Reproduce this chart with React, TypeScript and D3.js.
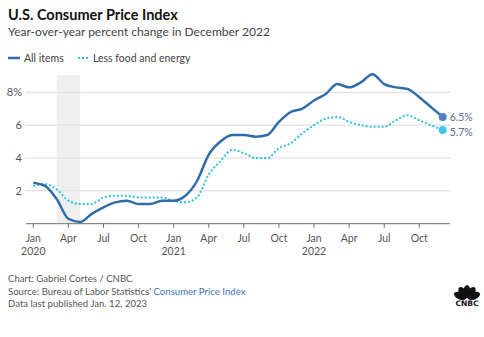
import React from "react";
import * as d3 from "d3";

const months = d3.range(36); // Jan 2020 .. Dec 2022
const allItems = [
  2.5, 2.3, 1.5, 0.3, 0.1, 0.6, 1.0, 1.3, 1.4, 1.2, 1.2, 1.4,
  1.4, 1.7, 2.6, 4.2, 5.0, 5.4, 5.4, 5.3, 5.4, 6.2, 6.8, 7.0,
  7.5, 7.9, 8.5, 8.3, 8.6, 9.1, 8.5, 8.3, 8.2, 7.7, 7.1, 6.5,
];
const coreItems = [
  2.3, 2.4, 2.1, 1.4, 1.2, 1.2, 1.6, 1.7, 1.7, 1.6, 1.6, 1.6,
  1.4, 1.3, 1.6, 3.0, 3.8, 4.5, 4.3, 4.0, 4.0, 4.6, 4.9, 5.5,
  6.0, 6.4, 6.5, 6.2, 6.0, 5.9, 5.9, 6.3, 6.6, 6.3, 6.0, 5.7,
];
const xTickMonths = [0, 3, 6, 9, 12, 15, 18, 21, 24, 27, 30, 33];
const xTickLabels = ["Jan", "Apr", "Jul", "Oct", "Jan", "Apr", "Jul", "Oct", "Jan", "Apr", "Jul", "Oct"];
const yearLabels = [{ m: 0, t: "2020" }, { m: 12, t: "2021" }, { m: 24, t: "2022" }];
const yTicks = [2, 4, 6, 8];
const recession = [2, 4];

const W = 484;
const H = 337;
const FONT = "Lato, 'Open Sans', sans-serif";
const DARK = "#2f6da8";
const CYAN = "#33bfe0";

export default function App() {
  const x = d3.scaleLinear().domain([0, 35]).range([33.3, 442.7]);
  const y = d3.scaleLinear().domain([0, 8]).range([223.7, 92.3]);
  const line = d3
    .line<number>()
    .x((_, i) => x(months[i]))
    .y((d) => y(d))
    .curve(d3.curveMonotoneX);
  const last = months.length - 1;

  return (
    <svg
      width={W}
      height={H}
      style={{ position: "absolute", left: 0, top: 0, background: "#fff" }}
      fontFamily={FONT}
    >
      <text x={8} y={20} fontSize={14.5} fontWeight={700} fill="#111">
        U.S. Consumer Price Index
      </text>
      <text x={8} y={36} fontSize={12} fill="#444">
        Year-over-year percent change in December 2022
      </text>

      {/* legend */}
      <line x1={8} x2={20} y1={58} y2={58} stroke={DARK} strokeWidth={2.5} />
      <text x={24} y={61.5} fontSize={10.5} fill="#444">All items</text>
      <line x1={78} x2={88} y1={58} y2={58} stroke={CYAN} strokeWidth={2} strokeDasharray="2,2" />
      <text x={93} y={61.5} fontSize={10.5} fill="#444">Less food and energy</text>

      {/* recession band */}
      <rect
        x={x(recession[0])}
        y={75}
        width={x(recession[1]) - x(recession[0])}
        height={y(0) - 75}
        fill="#efefef"
      />

      {/* grid */}
      {yTicks.map((t) => (
        <g key={t}>
          <line x1={25} x2={450} y1={y(t)} y2={y(t)} stroke="#dcdcdc" strokeWidth={1} />
          <text x={22} y={y(t) + 4} fontSize={11} fill="#555" textAnchor="end">
            {t === 8 ? "8%" : t}
          </text>
        </g>
      ))}
      <line x1={26} x2={450} y1={y(0)} y2={y(0)} stroke="#888" strokeWidth={1.2} />

      {/* x ticks */}
      {xTickMonths.map((m, i) => (
        <g key={m}>
          <line x1={x(m)} x2={x(m)} y1={y(0)} y2={y(0) + 4} stroke="#666" />
          <text x={x(m)} y={y(0) + 18} fontSize={10.5} fill="#555" textAnchor="middle">
            {xTickLabels[i]}
          </text>
        </g>
      ))}
      {yearLabels.map((d) => (
        <text key={d.t} x={x(d.m)} y={y(0) + 31} fontSize={10.5} fill="#555" textAnchor="middle">
          {d.t}
        </text>
      ))}

      {/* lines */}
      <path d={line(coreItems) || ""} fill="none" stroke={CYAN} strokeWidth={2} strokeDasharray="2,2" />
      <path d={line(allItems) || ""} fill="none" stroke={DARK} strokeWidth={2.5} />

      <circle cx={x(last)} cy={y(allItems[last])} r={4} fill="#4f82c0" />
      <circle cx={x(last)} cy={y(coreItems[last])} r={4} fill="#3fc6ea" />
      <text x={x(last) + 7} y={y(allItems[last]) + 4} fontSize={10.5} fill="#5b6e88">
        {allItems[last]}%
      </text>
      <text x={x(last) + 7} y={y(coreItems[last]) + 6} fontSize={10.5} fill="#5b6e88">
        {coreItems[last]}%
      </text>

      {/* footer */}
      <text x={8} y={282} fontSize={9.6} fill="#555">Chart: Gabriel Cortes / CNBC</text>
      <text x={8} y={294.5} fontSize={9.6} fill="#555">
        Source: Bureau of Labor Statistics' <tspan fill="#3a78b5">Consumer Price Index</tspan>
      </text>
      <text x={8} y={307} fontSize={9.6} fill="#555">Data last published Jan. 12, 2023</text>

      {/* CNBC logo */}
      <g transform="translate(467,298)">
        {[-66, -33, 0, 33, 66].map((a) => (
          <ellipse key={a} cx={0} cy={-6.5} rx={3.6} ry={6.5} fill="#111" transform={`rotate(${a},0,1)`} />
        ))}
        <text x={0} y={8} fontSize={7.5} fontWeight={900} textAnchor="middle" fill="#111" fontFamily="'DejaVu Sans', sans-serif">CNBC</text>
      </g>
    </svg>
  );
}
